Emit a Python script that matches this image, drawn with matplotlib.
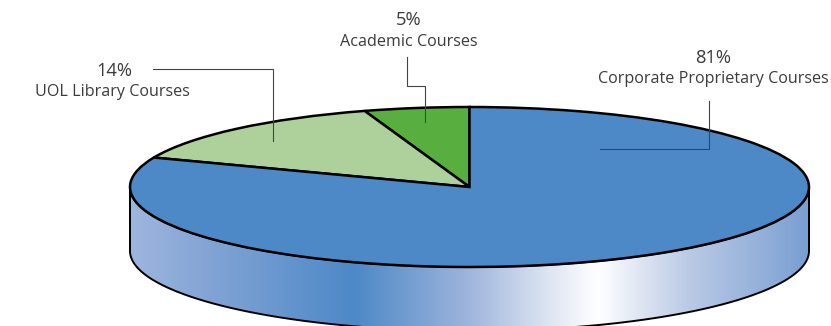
import numpy as np
import matplotlib
matplotlib.use("Agg")
import matplotlib.pyplot as plt
from matplotlib.colors import LinearSegmentedColormap
from matplotlib.patches import Polygon

# fatias em ordem anti-horaria a partir do topo
labels = ["Academic Courses", "UOL Library Courses", "Corporate Proprietary Courses"]
values = [5, 14, 81]
colors = ["#58ae3f", "#aed19c", "#4d88c7"]

W, H = 831, 326
cx, cy = 469.5, 187
rx, ry = 339.5, 80
depth = 64

plt.rcParams["font.family"] = "Open Sans"
text_color = "#3c3c3c"
line_color = "#444444"

fig = plt.figure(figsize=(W / 100, H / 100), dpi=100)
ax = fig.add_axes([0, 0, 1, 1])
ax.set_xlim(0, W)
ax.set_ylim(H, 0)
ax.axis("off")

# parede lateral com gradiente
wall_cmap = LinearSegmentedColormap.from_list("wall", [
    (0.00, "#9db6de"),
    (0.10, "#86a6d6"),
    (0.33, "#4d88c7"),
    (0.50, "#9fb5dc"),
    (0.62, "#dfe6f3"),
    (0.69, "#ffffff"),
    (0.82, "#bccbe6"),
    (1.00, "#7a9fd2"),
])
grad = np.linspace(0, 1, 512).reshape(1, -1)
img = ax.imshow(grad, cmap=wall_cmap, aspect="auto", zorder=1,
                extent=[cx - rx, cx + rx, H + 20, cy])
t = np.linspace(0, np.pi, 200)
ex = cx + rx * np.cos(t)
ey = cy + ry * np.sin(t)
wall = Polygon(np.column_stack([
    np.concatenate([ex, ex[::-1]]),
    np.concatenate([ey, ey[::-1] + depth]),
]), closed=True, facecolor="none", edgecolor="black", linewidth=1.4, zorder=2)
ax.add_patch(wall)
img.set_clip_path(wall)
ax.set_xlim(0, W)
ax.set_ylim(H, 0)

# tampo da pizza: eixo esticado para virar elipse
ax_pie = fig.add_axes([(cx - rx) / W, 1 - (cy + ry) / H, 2 * rx / W, 2 * ry / H])
ax_pie.pie(values, colors=colors, startangle=90, counterclock=True, radius=1,
           wedgeprops={"edgecolor": "black", "linewidth": 1.8, "clip_on": False})
ax_pie.set_aspect("auto")
ax_pie.set_xlim(-1, 1)
ax_pie.set_ylim(-1, 1)
ax_pie.patch.set_alpha(0)

# eixo de cima para textos e linhas de chamada
ax_top = fig.add_axes([0, 0, 1, 1])
ax_top.set_xlim(0, W)
ax_top.set_ylim(H, 0)
ax_top.axis("off")

ax_top.plot([153, 273, 273], [69, 69, 141], color=line_color, lw=0.8)
ax_top.plot([407, 407, 425, 425], [57, 86, 86, 122], color=line_color, lw=0.8)
ax_top.plot([709, 709, 600], [101, 149, 149], color=line_color, lw=0.8)

label_pos = [(409, 42), (112, 92), (713, 79)]
pct_pos = [(409, 20), (114, 71), (713, 58)]
for name, v, lp, pp in zip(labels, values, label_pos, pct_pos):
    ax_top.text(lp[0], lp[1], name, ha="center", va="center", fontsize=11.6, color=text_color)
    ax_top.text(pp[0], pp[1], f"{v}%", ha="center", va="center", fontsize=13.2, color=text_color)

fig.savefig("out.png", dpi=100)
